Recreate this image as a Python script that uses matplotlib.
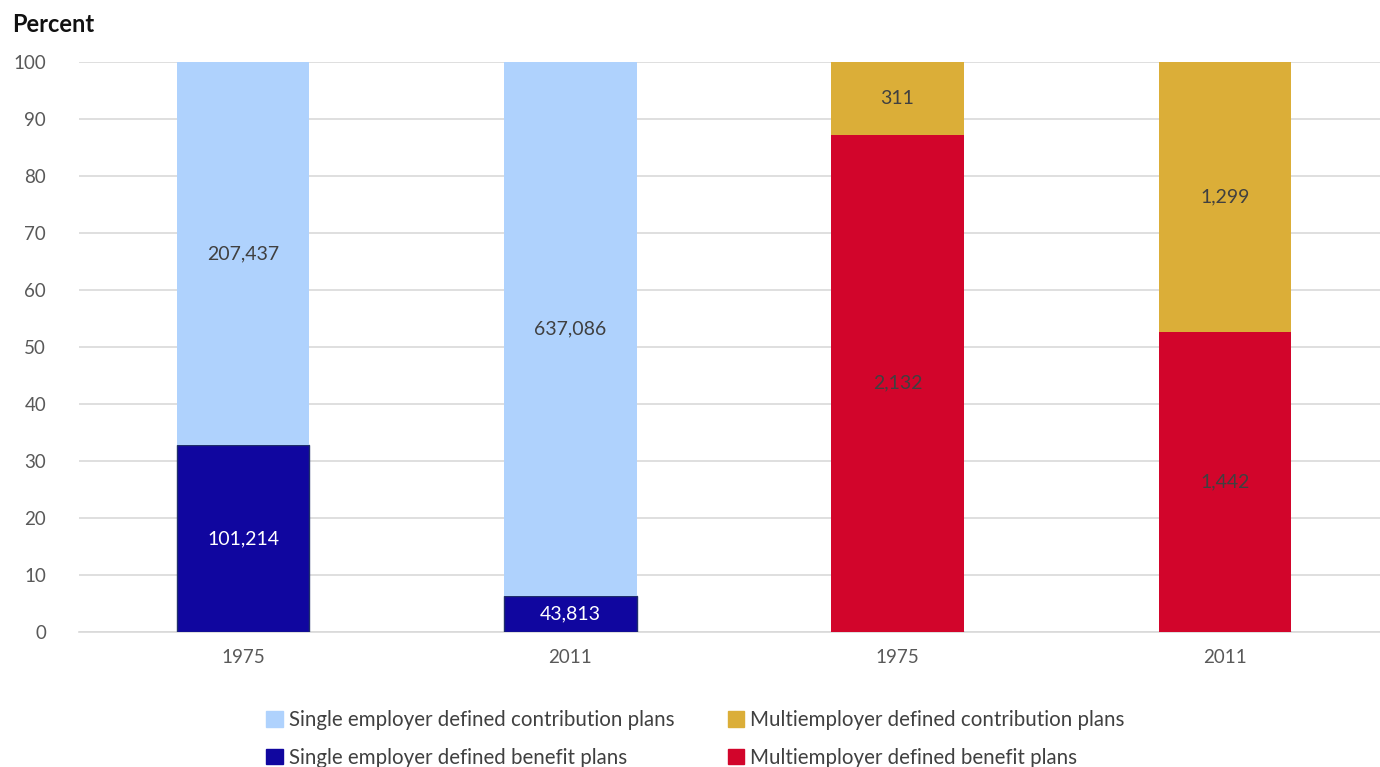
import numpy as np
import matplotlib.pyplot as plt
from matplotlib.patches import Patch

plt.rcParams['font.family'] = ['Lato', 'DejaVu Sans']

# categories and values
years = ['1975', '2011', '1975', '2011']
single_db_pct = [32.8, 6.4, 0, 0]
single_dc_pct = [67.2, 93.6, 0, 0]
multi_db_pct = [0, 0, 87.3, 52.6]
multi_dc_pct = [0, 0, 12.7, 47.4]
single_db_n = ['101,214', '43,813', '', '']
single_dc_n = ['207,437', '637,086', '', '']
multi_db_n = ['', '', '2,132', '1,442']
multi_dc_n = ['', '', '311', '1,299']

c_sdc = '#afd2fd'
c_sdb = '#10069f'
c_mdc = '#dbae38'
c_mdb = '#d2052b'

fig = plt.figure(figsize=(13.8, 7.67), dpi=100)
ax = fig.add_axes([0.0575, 0.176, 0.9486, 0.743])

x = np.arange(len(years))
w = 0.405

b1 = ax.bar(x, single_db_pct, w, color=c_sdb, edgecolor='#1f2f6b', linewidth=1, zorder=3)
b2 = ax.bar(x, single_dc_pct, w, bottom=single_db_pct, color=c_sdc, zorder=3)
b3 = ax.bar(x, multi_db_pct, w, color=c_mdb, zorder=3)
b4 = ax.bar(x, multi_dc_pct, w, bottom=multi_db_pct, color=c_mdc, zorder=3)

ax.bar_label(b1, labels=single_db_n, label_type='center', color='white', fontsize=14)
ax.bar_label(b2, labels=single_dc_n, label_type='center', color='#404040', fontsize=14)
ax.bar_label(b3, labels=multi_db_n, label_type='center', color='#404040', fontsize=14)
ax.bar_label(b4, labels=multi_dc_n, label_type='center', color='#404040', fontsize=14)

ax.set_xlim(-0.5, 3.5)
ax.set_ylim(0, 100)
ax.set_yticks(range(0, 101, 10))
ax.set_xticks(x)
ax.set_xticklabels(years)
ax.yaxis.grid(True, color='#d9d9d9', linewidth=1.2, zorder=0)
ax.set_axisbelow(True)
for s in ['top', 'right', 'left']:
    ax.spines[s].set_visible(False)
ax.spines['bottom'].set_color('#d9d9d9')
ax.spines['bottom'].set_linewidth(1.2)
ax.tick_params(axis='both', length=0, labelsize=13.5, colors='#595959')
ax.tick_params(axis='x', pad=12)
ax.tick_params(axis='y', pad=24)

fig.text(0.009, 0.968, 'Percent', fontsize=17, fontweight='bold', color='#111111', va='center')

handles = [Patch(color=c_sdc), Patch(color=c_sdb), Patch(color=c_mdc), Patch(color=c_mdb)]
names = ['Single employer defined contribution plans', 'Single employer defined benefit plans',
         'Multiemployer defined contribution plans', 'Multiemployer defined benefit plans']
fig.legend(handles, names, ncol=2, loc='upper center', bbox_to_anchor=(0.504, 0.093),
           frameon=False, fontsize=14.8, labelcolor='#404040', handlelength=0.8, handleheight=0.8,
           handletextpad=0.3, columnspacing=2.6, labelspacing=0.85, borderpad=0.2)

fig.savefig('out.png', dpi=100)
